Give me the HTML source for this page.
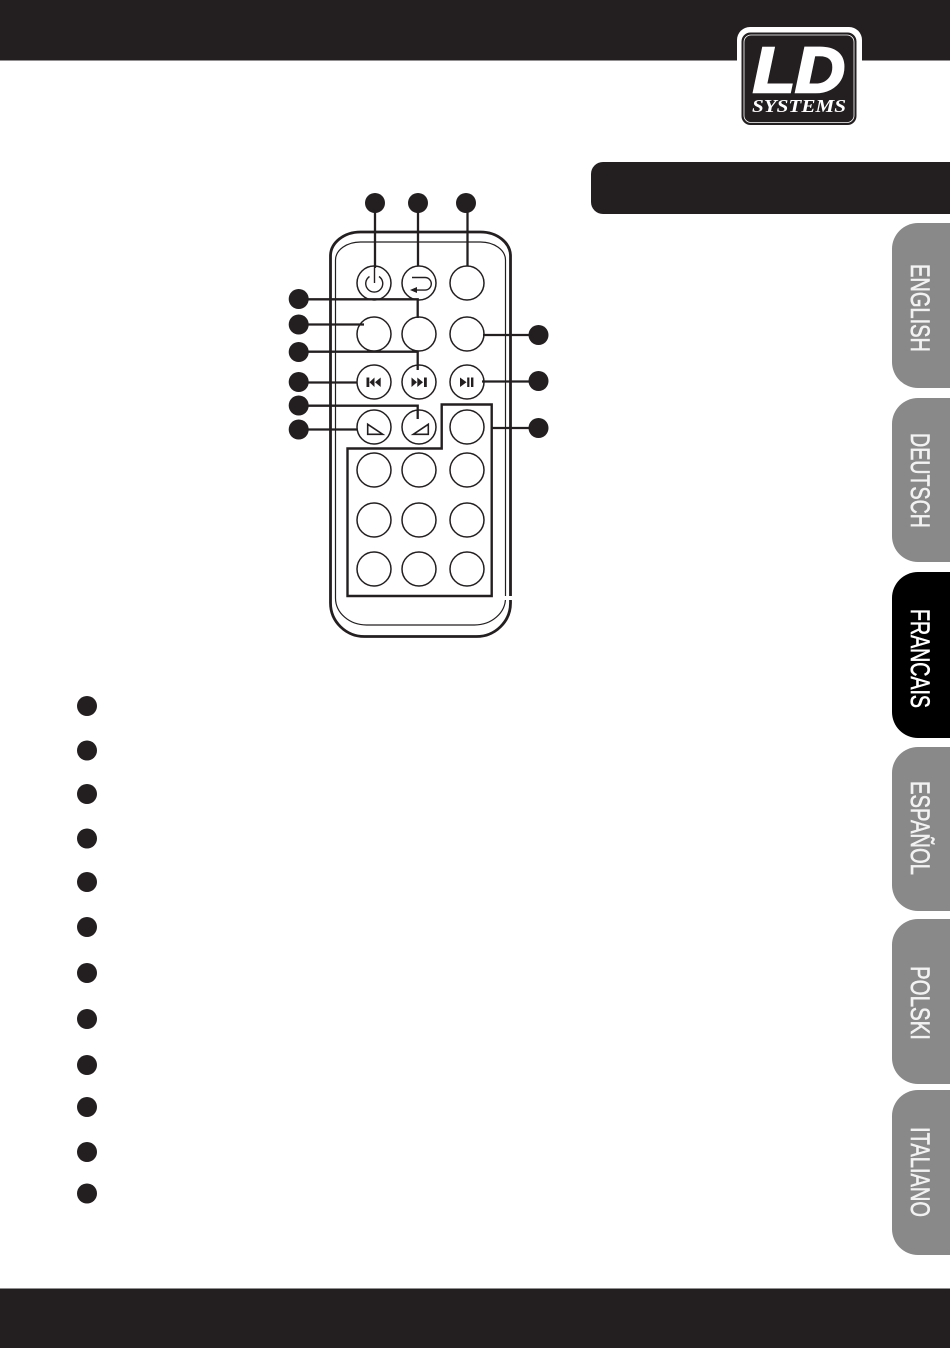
<!DOCTYPE html>
<html>
<head>
<meta charset="utf-8">
<style>
html,body{margin:0;padding:0;background:#fff;}
svg{display:block;}
</style>
</head>
<body>
<svg xmlns="http://www.w3.org/2000/svg" width="950" height="1348" viewBox="0 0 950 1348">
<rect width="950" height="1348" fill="#fff"/>
<rect x="0" y="0" width="950" height="60.500" fill="#231f20"/>
<rect x="0" y="1288.500" width="950" height="60" fill="#231f20"/>

<!-- logo -->
<rect x="737" y="27" width="125" height="101" rx="13" fill="#fff"/>
<rect x="741.500" y="32.500" width="115" height="92.500" rx="9" fill="#231f20"/>
<rect x="744" y="35" width="110" height="87.500" rx="7" fill="none" stroke="#fff" stroke-width="0.800"/>
<text x="753" y="92" font-family="'Liberation Sans',sans-serif" font-weight="700" font-style="italic" font-size="64" fill="#fff" stroke="#fff" stroke-width="2.600" stroke-linejoin="miter" textLength="92" lengthAdjust="spacingAndGlyphs">LD</text>
<text x="752" y="112" font-family="'Liberation Serif',serif" font-weight="700" font-style="italic" font-size="17.500" fill="#fff" textLength="94" lengthAdjust="spacingAndGlyphs">SYSTEMS</text>

<!-- section bar -->
<path d="M950 162H603a12 12 0 0 0-12 12v28a12 12 0 0 0 12 12H950Z" fill="#231f20"/>

<!-- tabs -->
<g fill="#8a8989">
<path d="M950 223H918a26 26 0 0 0-26 26V362a26 26 0 0 0 26 26H950Z"/>
<path d="M950 398H918a26 26 0 0 0-26 26V536a26 26 0 0 0 26 26H950Z"/>
<path d="M950 747H918a26 26 0 0 0-26 26V885a26 26 0 0 0 26 26H950Z"/>
<path d="M950 919H918a26 26 0 0 0-26 26V1058a26 26 0 0 0 26 26H950Z"/>
<path d="M950 1090H918a26 26 0 0 0-26 26V1229a26 26 0 0 0 26 26H950Z"/>
</g>
<path d="M950 572H918a26 26 0 0 0-26 26V712a26 26 0 0 0 26 26H950Z" fill="#000"/>
<g font-family="'Liberation Sans',sans-serif" font-size="27" fill="#f2f2f2" stroke="#f2f2f2" stroke-width="0.600">
<text transform="translate(911,264) rotate(90)" textLength="88" lengthAdjust="spacingAndGlyphs">ENGLISH</text>
<text transform="translate(911,433) rotate(90)" textLength="95" lengthAdjust="spacingAndGlyphs">DEUTSCH</text>
<text transform="translate(911,609) rotate(90)" textLength="99" lengthAdjust="spacingAndGlyphs" fill="#fff" stroke="#fff">FRANCAIS</text>
<text transform="translate(911,781) rotate(90)" textLength="94" lengthAdjust="spacingAndGlyphs">ESPAÑOL</text>
<text transform="translate(911,966) rotate(90)" textLength="74" lengthAdjust="spacingAndGlyphs">POLSKI</text>
<text transform="translate(911,1127) rotate(90)" textLength="90" lengthAdjust="spacingAndGlyphs">ITALIANO</text>
</g>

<!-- remote body -->
<g fill="none" stroke="#231f20">
<path d="M360.500 232H480.500A30 24 0 0 1 510.500 256V603A34 33.500 0 0 1 476.500 636.500H364.500A34 33.500 0 0 1 330.500 603V256A30 24 0 0 1 360.500 232Z" stroke-width="2.800"/>
<path d="M360.500 242H480.500A25 18 0 0 1 505.500 260V598A31 27 0 0 1 474.500 625H366.500A31 27 0 0 1 335.500 598V260A25 18 0 0 1 360.500 242Z" stroke-width="1.200"/>
</g>
<rect x="503" y="596" width="9" height="4" fill="#fff"/>

<!-- outlined group -->
<path d="M347.500 448.500H441.700V404.500H491.700V596H347.500Z" fill="none" stroke="#231f20" stroke-width="2.400"/>

<!-- buttons -->
<g fill="#fff" stroke="#231f20" stroke-width="1.500">
<circle cx="374" cy="283" r="17"/><circle cx="419" cy="283" r="17"/><circle cx="467" cy="283" r="17"/>
<circle cx="374" cy="334" r="17"/><circle cx="419" cy="334" r="17"/><circle cx="467" cy="334" r="17"/>
<circle cx="374" cy="382" r="17"/><circle cx="419" cy="382" r="17"/><circle cx="467" cy="382" r="17"/>
<circle cx="374" cy="427" r="17"/><circle cx="419" cy="427" r="17"/><circle cx="467" cy="427" r="17"/>
<circle cx="374" cy="470" r="17"/><circle cx="419" cy="470" r="17"/><circle cx="467" cy="470" r="17"/>
<circle cx="374" cy="520" r="17"/><circle cx="419" cy="520" r="17"/><circle cx="467" cy="520" r="17"/>
<circle cx="374" cy="569" r="17"/><circle cx="419" cy="569" r="17"/><circle cx="467" cy="569" r="17"/>
</g>

<!-- icons -->
<g fill="none" stroke="#231f20" stroke-width="1.400">
<path d="M369.500 276.500A8.500 8.500 0 1 0 379 276.500"/>
<path d="M374.500 268V283"/>
<path d="M412 277.500H425a6.300 6.300 0 0 1 0 12.600H414"/>
<path d="M367.700 424.300V434.300H382.700Z" stroke-width="1.600"/>
<path d="M413.300 434.300H428.300V424.300Z" stroke-width="1.600"/>
</g>
<g fill="#231f20">
<path d="M410 290L417 287V293Z"/>
<rect x="366.500" y="377.500" width="2.800" height="9.500"/>
<path d="M369.500 382.200L374.500 377.500V387Z"/><path d="M375 382.200L380.700 377.500V387Z"/>
<path d="M411.500 377.500L417 382.200L411.500 387Z"/><path d="M417.300 377.500L423 382.200L417.300 387Z"/>
<rect x="424" y="377.500" width="2.800" height="9.500"/>
<path d="M460 377.500L466.500 382.200L460 387Z"/>
<rect x="467.200" y="377.500" width="2.200" height="9.500"/>
<rect x="471" y="377.500" width="2.400" height="9.500"/>
</g>

<!-- connectors -->
<g fill="none" stroke="#231f20" stroke-width="2.300">
<path d="M375 203V268"/>
<path d="M418 203V266"/>
<path d="M467.500 203V266"/>
<path d="M298 299.300H417.700V318"/>
<path d="M298 324.500H364"/>
<path d="M298 351.700H417.700V370"/>
<path d="M298 382.500H357"/>
<path d="M298 405.700H417.700V419"/>
<path d="M298 429.500H357"/>
<path d="M538 335H483"/>
<path d="M538 381.500H482"/>
<path d="M538 428H492"/>
</g>

<!-- callout dots -->
<g fill="#231f20">
<circle cx="375" cy="203" r="10"/><circle cx="418" cy="203" r="10"/><circle cx="466" cy="203" r="10"/>
<circle cx="298.700" cy="299" r="10"/><circle cx="298.700" cy="324.500" r="10"/><circle cx="298.700" cy="352" r="10"/>
<circle cx="298.700" cy="382" r="10"/><circle cx="298.700" cy="405.500" r="10"/><circle cx="298.700" cy="429.500" r="10"/>
<circle cx="538.500" cy="335" r="10"/><circle cx="538.500" cy="381" r="10"/><circle cx="538.500" cy="428" r="10"/>
<circle cx="87" cy="706" r="10"/><circle cx="87" cy="750.500" r="10"/><circle cx="87" cy="794" r="10"/>
<circle cx="87" cy="838.500" r="10"/><circle cx="87" cy="882" r="10"/><circle cx="87" cy="927" r="10"/>
<circle cx="87" cy="973" r="10"/><circle cx="87" cy="1019" r="10"/><circle cx="87" cy="1065" r="10"/>
<circle cx="87" cy="1107" r="10"/><circle cx="87" cy="1152" r="10"/><circle cx="87" cy="1193.500" r="10"/>
</g>
</svg>
</body>
</html>
